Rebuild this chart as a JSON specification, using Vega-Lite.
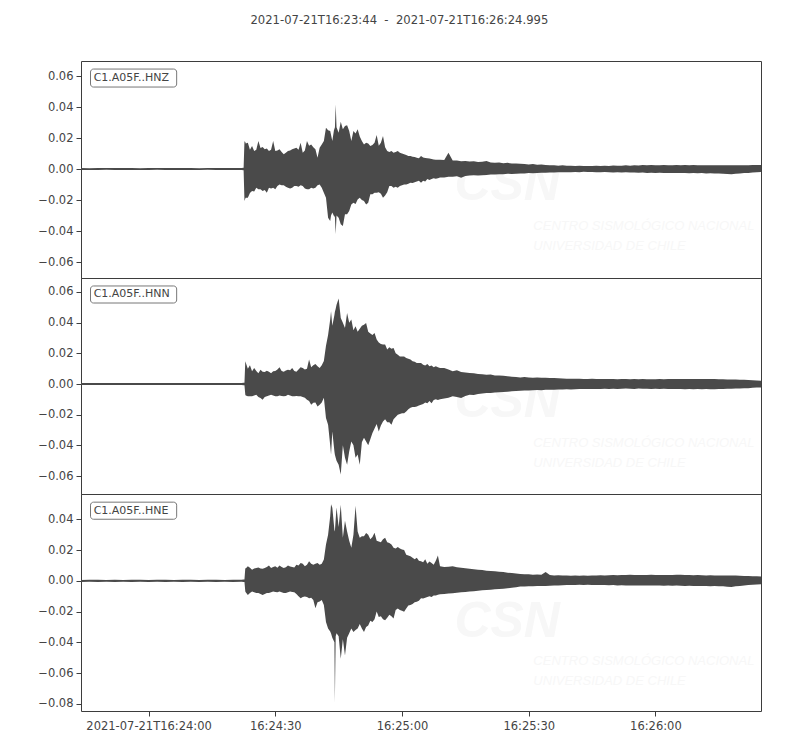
{
  "$schema": "https://vega.github.io/schema/vega-lite/v6.json",
  "title": {"text": "2021-07-21T16:23:44\u00a0\u00a0-\u00a0\u00a02021-07-21T16:26:24.995", "anchor": "middle", "fontSize": 11.6, "fontWeight": "normal", "color": "#444444", "font": "DejaVu Sans", "offset": 34},
  "background": "#ffffff",
  "padding": {"left": 37, "top": 14, "right": 40, "bottom": 5},
  "data": {"values": [
    {"t":0,"zl":-0.0006,"zh":0.0006,"nl":-0.0006,"nh":0.0007,"el":-0.0007,"eh":0.0006},
    {"t":2,"zl":-0.0007,"zh":0.0005,"nl":-0.0007,"nh":0.0006,"el":-0.0006,"eh":0.0007},
    {"t":4,"zl":-0.0006,"zh":0.0006,"nl":-0.0006,"nh":0.0006,"el":-0.0007,"eh":0.0007},
    {"t":6,"zl":-0.0005,"zh":0.0006,"nl":-0.0007,"nh":0.0007,"el":-0.0006,"eh":0.0006},
    {"t":8,"zl":-0.0006,"zh":0.0007,"nl":-0.0006,"nh":0.0006,"el":-0.0007,"eh":0.0007},
    {"t":10,"zl":-0.0006,"zh":0.0006,"nl":-0.0007,"nh":0.0006,"el":-0.0006,"eh":0.0006},
    {"t":12,"zl":-0.0007,"zh":0.0006,"nl":-0.0006,"nh":0.0007,"el":-0.0007,"eh":0.0007},
    {"t":14,"zl":-0.0006,"zh":0.0005,"nl":-0.0006,"nh":0.0006,"el":-0.0006,"eh":0.0007},
    {"t":16,"zl":-0.0006,"zh":0.0006,"nl":-0.0007,"nh":0.0006,"el":-0.0007,"eh":0.0006},
    {"t":18,"zl":-0.0005,"zh":0.0006,"nl":-0.0006,"nh":0.0007,"el":-0.0006,"eh":0.0007},
    {"t":20,"zl":-0.0006,"zh":0.0007,"nl":-0.0006,"nh":0.0006,"el":-0.0007,"eh":0.0007},
    {"t":22,"zl":-0.0006,"zh":0.0006,"nl":-0.0007,"nh":0.0006,"el":-0.0006,"eh":0.0006},
    {"t":24,"zl":-0.0007,"zh":0.0006,"nl":-0.0006,"nh":0.0007,"el":-0.0007,"eh":0.0007},
    {"t":26,"zl":-0.0006,"zh":0.0006,"nl":-0.0006,"nh":0.0006,"el":-0.0006,"eh":0.0007},
    {"t":28,"zl":-0.0006,"zh":0.0005,"nl":-0.0007,"nh":0.0006,"el":-0.0007,"eh":0.0006},
    {"t":30,"zl":-0.0005,"zh":0.0006,"nl":-0.0006,"nh":0.0007,"el":-0.0006,"eh":0.0007},
    {"t":32,"zl":-0.0006,"zh":0.0007,"nl":-0.0006,"nh":0.0006,"el":-0.0007,"eh":0.0007},
    {"t":34,"zl":-0.0006,"zh":0.0006,"nl":-0.0007,"nh":0.0006,"el":-0.0006,"eh":0.0006},
    {"t":36,"zl":-0.0007,"zh":0.0006,"nl":-0.0006,"nh":0.0007,"el":-0.0007,"eh":0.0007},
    {"t":38,"zl":-0.0006,"zh":0.0006,"nl":-0.0006,"nh":0.0006,"el":-0.0006,"eh":0.0007},
    {"t":38.5,"zl":-0.0008,"zh":0.0008,"nl":-0.0008,"nh":0.0008,"el":-0.0008,"eh":0.0008},
    {"t":38.7,"zl":-0.0206,"zh":0.018,"nl":-0.0008,"nh":0.0008,"el":-0.0008,"eh":0.0008},
    {"t":38.9,"zl":-0.019,"zh":0.0175,"nl":-0.007,"nh":0.0148,"el":-0.007,"eh":0.0083},
    {"t":39,"zl":-0.0185,"zh":0.0165,"nl":-0.0075,"nh":0.014,"el":-0.0075,"eh":0.008},
    {"t":39.5,"zl":-0.0185,"zh":0.017,"nl":-0.008,"nh":0.01,"el":-0.0092,"eh":0.0094},
    {"t":40,"zl":-0.0155,"zh":0.0125,"nl":-0.008,"nh":0.0122,"el":-0.008,"eh":0.0085},
    {"t":40.5,"zl":-0.0142,"zh":0.0148,"nl":-0.008,"nh":0.0083,"el":-0.007,"eh":0.0072},
    {"t":41,"zl":-0.0145,"zh":0.0116,"nl":-0.0075,"nh":0.0104,"el":-0.0075,"eh":0.008},
    {"t":41.5,"zl":-0.012,"zh":0.0125,"nl":-0.007,"nh":0.0085,"el":-0.008,"eh":0.0083},
    {"t":42,"zl":-0.013,"zh":0.0181,"nl":-0.0085,"nh":0.007,"el":-0.008,"eh":0.0087},
    {"t":42.5,"zl":-0.0131,"zh":0.0135,"nl":-0.0092,"nh":0.0093,"el":-0.0085,"eh":0.008},
    {"t":43,"zl":-0.0142,"zh":0.0142,"nl":-0.0102,"nh":0.008,"el":-0.0092,"eh":0.0078},
    {"t":43.5,"zl":-0.0135,"zh":0.0127,"nl":-0.0085,"nh":0.0078,"el":-0.0085,"eh":0.0083},
    {"t":44,"zl":-0.0153,"zh":0.0133,"nl":-0.008,"nh":0.0087,"el":-0.008,"eh":0.009},
    {"t":44.5,"zl":-0.012,"zh":0.0116,"nl":-0.0075,"nh":0.008,"el":-0.008,"eh":0.01},
    {"t":45,"zl":-0.0125,"zh":0.0125,"nl":-0.007,"nh":0.007,"el":-0.0075,"eh":0.0083},
    {"t":45.5,"zl":-0.012,"zh":0.0181,"nl":-0.0075,"nh":0.0083,"el":-0.007,"eh":0.009},
    {"t":46,"zl":-0.0131,"zh":0.0116,"nl":-0.008,"nh":0.0085,"el":-0.0072,"eh":0.0094},
    {"t":46.5,"zl":-0.011,"zh":0.012,"nl":-0.008,"nh":0.0095,"el":-0.0075,"eh":0.0085},
    {"t":47,"zl":-0.0099,"zh":0.0127,"nl":-0.0075,"nh":0.0109,"el":-0.007,"eh":0.01},
    {"t":47.5,"zl":-0.0105,"zh":0.011,"nl":-0.0078,"nh":0.0085,"el":-0.0075,"eh":0.009},
    {"t":48,"zl":-0.0105,"zh":0.0095,"nl":-0.008,"nh":0.008,"el":-0.008,"eh":0.0083},
    {"t":48.5,"zl":-0.0115,"zh":0.0105,"nl":-0.0078,"nh":0.0088,"el":-0.008,"eh":0.0088},
    {"t":49,"zl":-0.012,"zh":0.0116,"nl":-0.007,"nh":0.0093,"el":-0.0075,"eh":0.01},
    {"t":49.5,"zl":-0.0125,"zh":0.012,"nl":-0.0075,"nh":0.009,"el":-0.007,"eh":0.0093},
    {"t":50,"zl":-0.012,"zh":0.0127,"nl":-0.008,"nh":0.0104,"el":-0.0072,"eh":0.009},
    {"t":50.5,"zl":-0.011,"zh":0.0133,"nl":-0.008,"nh":0.0085,"el":-0.0075,"eh":0.0087},
    {"t":51,"zl":-0.011,"zh":0.0138,"nl":-0.0078,"nh":0.008,"el":-0.0085,"eh":0.0105},
    {"t":51.5,"zl":-0.0115,"zh":0.0125,"nl":-0.008,"nh":0.0095,"el":-0.01,"eh":0.01},
    {"t":52,"zl":-0.0105,"zh":0.017,"nl":-0.008,"nh":0.0109,"el":-0.0114,"eh":0.0116},
    {"t":52.5,"zl":-0.011,"zh":0.0105,"nl":-0.0085,"nh":0.0104,"el":-0.0105,"eh":0.011},
    {"t":53,"zl":-0.0125,"zh":0.012,"nl":-0.009,"nh":0.0095,"el":-0.0102,"eh":0.0094},
    {"t":53.5,"zl":-0.0131,"zh":0.0181,"nl":-0.0102,"nh":0.01,"el":-0.0105,"eh":0.0105},
    {"t":54,"zl":-0.0131,"zh":0.015,"nl":-0.011,"nh":0.0159,"el":-0.0114,"eh":0.0127},
    {"t":54.5,"zl":-0.012,"zh":0.0159,"nl":-0.0135,"nh":0.011,"el":-0.011,"eh":0.011},
    {"t":55,"zl":-0.0125,"zh":0.014,"nl":-0.0122,"nh":0.0122,"el":-0.0125,"eh":0.0105},
    {"t":55.5,"zl":-0.012,"zh":0.0127,"nl":-0.012,"nh":0.013,"el":-0.0179,"eh":0.011},
    {"t":56,"zl":-0.0105,"zh":0.0073,"nl":-0.0146,"nh":0.0115,"el":-0.014,"eh":0.0116},
    {"t":56.5,"zl":-0.0099,"zh":0.0138,"nl":-0.0135,"nh":0.0104,"el":-0.0135,"eh":0.0105},
    {"t":57,"zl":-0.012,"zh":0.0159,"nl":-0.012,"nh":0.0122,"el":-0.0125,"eh":0.011},
    {"t":57.5,"zl":-0.0153,"zh":0.0181,"nl":-0.009,"nh":0.015,"el":-0.0157,"eh":0.0138},
    {"t":58,"zl":-0.0185,"zh":0.0267,"nl":-0.0222,"nh":0.025,"el":-0.0267,"eh":0.0236},
    {"t":58.5,"zl":-0.0314,"zh":0.025,"nl":-0.0265,"nh":0.032,"el":-0.031,"eh":0.03},
    {"t":59,"zl":-0.0335,"zh":0.0245,"nl":-0.04,"nh":0.042,"el":-0.033,"eh":0.042},
    {"t":59.2,"zl":-0.03,"zh":0.022,"nl":-0.046,"nh":0.0474,"el":-0.0343,"eh":0.0498},
    {"t":59.5,"zl":-0.028,"zh":0.0181,"nl":-0.031,"nh":0.038,"el":-0.037,"eh":0.0475},
    {"t":60,"zl":-0.031,"zh":0.027,"nl":-0.044,"nh":0.045,"el":-0.04,"eh":0.033},
    {"t":60.1,"zl":-0.03,"zh":0.025,"nl":-0.046,"nh":0.047,"el":-0.079,"eh":0.032},
    {"t":60.3,"zl":-0.0421,"zh":0.0417,"nl":-0.048,"nh":0.049,"el":-0.036,"eh":0.04},
    {"t":60.5,"zl":-0.03,"zh":0.027,"nl":-0.05,"nh":0.0517,"el":-0.034,"eh":0.0477},
    {"t":61,"zl":-0.0314,"zh":0.0234,"nl":-0.0526,"nh":0.0557,"el":-0.036,"eh":0.035},
    {"t":61.5,"zl":-0.0357,"zh":0.0305,"nl":-0.059,"nh":0.043,"el":-0.0507,"eh":0.0494},
    {"t":62,"zl":-0.0368,"zh":0.0256,"nl":-0.04,"nh":0.04,"el":-0.038,"eh":0.028},
    {"t":62.5,"zl":-0.0292,"zh":0.0277,"nl":-0.048,"nh":0.0365,"el":-0.0485,"eh":0.039},
    {"t":63,"zl":-0.0292,"zh":0.0282,"nl":-0.0526,"nh":0.0463,"el":-0.037,"eh":0.032},
    {"t":63.5,"zl":-0.027,"zh":0.0245,"nl":-0.044,"nh":0.04,"el":-0.034,"eh":0.026},
    {"t":64,"zl":-0.0228,"zh":0.0181,"nl":-0.0375,"nh":0.042,"el":-0.031,"eh":0.0214},
    {"t":64.5,"zl":-0.0217,"zh":0.0245,"nl":-0.04,"nh":0.035,"el":-0.0332,"eh":0.03},
    {"t":65,"zl":-0.0225,"zh":0.023,"nl":-0.048,"nh":0.0376,"el":-0.032,"eh":0.0487},
    {"t":65.5,"zl":-0.0196,"zh":0.0256,"nl":-0.046,"nh":0.034,"el":-0.031,"eh":0.032},
    {"t":66,"zl":-0.0185,"zh":0.021,"nl":-0.0526,"nh":0.036,"el":-0.028,"eh":0.028},
    {"t":66.5,"zl":-0.02,"zh":0.0181,"nl":-0.038,"nh":0.038,"el":-0.031,"eh":0.029},
    {"t":67,"zl":-0.0206,"zh":0.0159,"nl":-0.035,"nh":0.0387,"el":-0.0332,"eh":0.029},
    {"t":67.5,"zl":-0.0228,"zh":0.017,"nl":-0.0374,"nh":0.0398,"el":-0.03,"eh":0.031},
    {"t":68,"zl":-0.0217,"zh":0.0165,"nl":-0.04,"nh":0.034,"el":-0.029,"eh":0.03},
    {"t":68.5,"zl":-0.0163,"zh":0.0148,"nl":-0.036,"nh":0.033,"el":-0.026,"eh":0.027},
    {"t":69,"zl":-0.0163,"zh":0.0155,"nl":-0.032,"nh":0.032,"el":-0.0267,"eh":0.0285},
    {"t":69.5,"zl":-0.0153,"zh":0.017,"nl":-0.029,"nh":0.0333,"el":-0.025,"eh":0.0313},
    {"t":70,"zl":-0.0153,"zh":0.0219,"nl":-0.026,"nh":0.029,"el":-0.02,"eh":0.026},
    {"t":70.5,"zl":-0.015,"zh":0.015,"nl":-0.031,"nh":0.027,"el":-0.0235,"eh":0.0255},
    {"t":71,"zl":-0.016,"zh":0.017,"nl":-0.027,"nh":0.026,"el":-0.023,"eh":0.025},
    {"t":71.5,"zl":-0.0185,"zh":0.0213,"nl":-0.0245,"nh":0.0257,"el":-0.025,"eh":0.027},
    {"t":72,"zl":-0.017,"zh":0.014,"nl":-0.023,"nh":0.0257,"el":-0.0256,"eh":0.028},
    {"t":72.5,"zl":-0.015,"zh":0.0116,"nl":-0.025,"nh":0.0225,"el":-0.024,"eh":0.025},
    {"t":73,"zl":-0.011,"zh":0.011,"nl":-0.025,"nh":0.024,"el":-0.022,"eh":0.0245},
    {"t":73.5,"zl":-0.011,"zh":0.0116,"nl":-0.0265,"nh":0.023,"el":-0.023,"eh":0.0236},
    {"t":74,"zl":-0.012,"zh":0.0105,"nl":-0.023,"nh":0.0235,"el":-0.0245,"eh":0.0215},
    {"t":74.5,"zl":-0.0115,"zh":0.011,"nl":-0.0215,"nh":0.02,"el":-0.019,"eh":0.021},
    {"t":75,"zl":-0.012,"zh":0.0116,"nl":-0.02,"nh":0.0191,"el":-0.018,"eh":0.022},
    {"t":75.5,"zl":-0.011,"zh":0.0105,"nl":-0.0195,"nh":0.018,"el":-0.019,"eh":0.021},
    {"t":76,"zl":-0.0105,"zh":0.01,"nl":-0.019,"nh":0.018,"el":-0.0195,"eh":0.0203},
    {"t":76.5,"zl":-0.0099,"zh":0.0095,"nl":-0.019,"nh":0.018,"el":-0.0201,"eh":0.02},
    {"t":77,"zl":-0.0099,"zh":0.009,"nl":-0.018,"nh":0.017,"el":-0.018,"eh":0.017},
    {"t":77.5,"zl":-0.0095,"zh":0.0084,"nl":-0.0165,"nh":0.0165,"el":-0.016,"eh":0.0165},
    {"t":78,"zl":-0.0088,"zh":0.0084,"nl":-0.0155,"nh":0.016,"el":-0.0158,"eh":0.016},
    {"t":78.5,"zl":-0.009,"zh":0.008,"nl":-0.015,"nh":0.0148,"el":-0.015,"eh":0.015},
    {"t":79,"zl":-0.0085,"zh":0.0078,"nl":-0.015,"nh":0.0145,"el":-0.014,"eh":0.014},
    {"t":79.5,"zl":-0.008,"zh":0.0073,"nl":-0.0146,"nh":0.0137,"el":-0.0136,"eh":0.0149},
    {"t":80,"zl":-0.0075,"zh":0.007,"nl":-0.014,"nh":0.0137,"el":-0.013,"eh":0.013},
    {"t":80.5,"zl":-0.0088,"zh":0.0084,"nl":-0.0135,"nh":0.0137,"el":-0.0114,"eh":0.0127},
    {"t":81,"zl":-0.0075,"zh":0.0075,"nl":-0.013,"nh":0.0125,"el":-0.0115,"eh":0.012},
    {"t":81.5,"zl":-0.008,"zh":0.0072,"nl":-0.012,"nh":0.012,"el":-0.011,"eh":0.014},
    {"t":82,"zl":-0.0065,"zh":0.007,"nl":-0.0125,"nh":0.013,"el":-0.0105,"eh":0.011},
    {"t":82.5,"zl":-0.007,"zh":0.0068,"nl":-0.011,"nh":0.0115,"el":-0.01,"eh":0.0125},
    {"t":83,"zl":-0.0065,"zh":0.0065,"nl":-0.0125,"nh":0.012,"el":-0.0105,"eh":0.0115},
    {"t":83.5,"zl":-0.006,"zh":0.0062,"nl":-0.0105,"nh":0.011,"el":-0.0095,"eh":0.0105},
    {"t":84,"zl":-0.0062,"zh":0.006,"nl":-0.01,"nh":0.0115,"el":-0.0095,"eh":0.013},
    {"t":84.5,"zl":-0.006,"zh":0.006,"nl":-0.0105,"nh":0.011,"el":-0.009,"eh":0.0164},
    {"t":85,"zl":-0.0055,"zh":0.006,"nl":-0.01,"nh":0.0105,"el":-0.0088,"eh":0.0094},
    {"t":86,"zl":-0.0055,"zh":0.0058,"nl":-0.0095,"nh":0.0104,"el":-0.0085,"eh":0.009},
    {"t":87,"zl":-0.005,"zh":0.0105,"nl":-0.009,"nh":0.0095,"el":-0.0082,"eh":0.0092},
    {"t":88,"zl":-0.005,"zh":0.0055,"nl":-0.008,"nh":0.0083,"el":-0.0081,"eh":0.0094},
    {"t":89,"zl":-0.0047,"zh":0.0055,"nl":-0.0085,"nh":0.009,"el":-0.0078,"eh":0.0088},
    {"t":90,"zl":-0.0056,"zh":0.005,"nl":-0.0092,"nh":0.0078,"el":-0.0075,"eh":0.0085},
    {"t":91,"zl":-0.0045,"zh":0.0052,"nl":-0.0078,"nh":0.0075,"el":-0.0072,"eh":0.0082},
    {"t":92,"zl":-0.0042,"zh":0.0048,"nl":-0.007,"nh":0.0072,"el":-0.007,"eh":0.0079},
    {"t":93,"zl":-0.004,"zh":0.005,"nl":-0.0072,"nh":0.007,"el":-0.0068,"eh":0.0075},
    {"t":94,"zl":-0.0042,"zh":0.0045,"nl":-0.0065,"nh":0.0066,"el":-0.0065,"eh":0.0072},
    {"t":95,"zl":-0.004,"zh":0.0047,"nl":-0.0062,"nh":0.0064,"el":-0.0062,"eh":0.007},
    {"t":96,"zl":-0.0039,"zh":0.0052,"nl":-0.0059,"nh":0.006,"el":-0.0059,"eh":0.0066},
    {"t":97,"zl":-0.0036,"zh":0.0042,"nl":-0.0058,"nh":0.0062,"el":-0.0058,"eh":0.0064},
    {"t":98,"zl":-0.0035,"zh":0.004,"nl":-0.0055,"nh":0.0056,"el":-0.0055,"eh":0.0062},
    {"t":99,"zl":-0.0034,"zh":0.0042,"nl":-0.0053,"nh":0.0055,"el":-0.0053,"eh":0.0059},
    {"t":100,"zl":-0.0033,"zh":0.0038,"nl":-0.0052,"nh":0.0054,"el":-0.0052,"eh":0.0057},
    {"t":101,"zl":-0.003,"zh":0.004,"nl":-0.005,"nh":0.005,"el":-0.0048,"eh":0.0052},
    {"t":102,"zl":-0.0032,"zh":0.0036,"nl":-0.0048,"nh":0.0048,"el":-0.0045,"eh":0.005},
    {"t":103,"zl":-0.003,"zh":0.0035,"nl":-0.0046,"nh":0.0046,"el":-0.0042,"eh":0.0047},
    {"t":104,"zl":-0.0028,"zh":0.0034,"nl":-0.0044,"nh":0.0043,"el":-0.0037,"eh":0.0044},
    {"t":105,"zl":-0.0028,"zh":0.0032,"nl":-0.0042,"nh":0.0045,"el":-0.0037,"eh":0.0043},
    {"t":106,"zl":-0.0026,"zh":0.003,"nl":-0.0042,"nh":0.0042,"el":-0.0036,"eh":0.0042},
    {"t":107,"zl":-0.0027,"zh":0.0032,"nl":-0.004,"nh":0.0041,"el":-0.0035,"eh":0.004},
    {"t":108,"zl":-0.0025,"zh":0.0028,"nl":-0.0039,"nh":0.0043,"el":-0.0034,"eh":0.0041},
    {"t":109,"zl":-0.0024,"zh":0.003,"nl":-0.004,"nh":0.004,"el":-0.0033,"eh":0.0039},
    {"t":110,"zl":-0.0024,"zh":0.0026,"nl":-0.0038,"nh":0.0041,"el":-0.0033,"eh":0.0057},
    {"t":111,"zl":-0.0022,"zh":0.0025,"nl":-0.0037,"nh":0.0039,"el":-0.0032,"eh":0.0038},
    {"t":112,"zl":-0.0023,"zh":0.0024,"nl":-0.0037,"nh":0.0039,"el":-0.0031,"eh":0.0035},
    {"t":113,"zl":-0.0021,"zh":0.0022,"nl":-0.0036,"nh":0.0037,"el":-0.003,"eh":0.0036},
    {"t":114,"zl":-0.002,"zh":0.0024,"nl":-0.0035,"nh":0.0036,"el":-0.0029,"eh":0.0034},
    {"t":115,"zl":-0.002,"zh":0.0021,"nl":-0.0034,"nh":0.0035,"el":-0.0028,"eh":0.0035},
    {"t":116,"zl":-0.0021,"zh":0.0022,"nl":-0.0035,"nh":0.0034,"el":-0.0027,"eh":0.0033},
    {"t":117,"zl":-0.0019,"zh":0.002,"nl":-0.0034,"nh":0.0035,"el":-0.0028,"eh":0.0034},
    {"t":118,"zl":-0.002,"zh":0.0021,"nl":-0.0033,"nh":0.0034,"el":-0.0026,"eh":0.0033},
    {"t":119,"zl":-0.0018,"zh":0.0019,"nl":-0.0033,"nh":0.0033,"el":-0.0027,"eh":0.0034},
    {"t":120,"zl":-0.0019,"zh":0.0019,"nl":-0.0033,"nh":0.0033,"el":-0.0026,"eh":0.0033},
    {"t":121,"zl":-0.0019,"zh":0.002,"nl":-0.0032,"nh":0.0034,"el":-0.0027,"eh":0.0034},
    {"t":122,"zl":-0.002,"zh":0.0021,"nl":-0.0033,"nh":0.0032,"el":-0.0028,"eh":0.0035},
    {"t":123,"zl":-0.0021,"zh":0.0019,"nl":-0.0032,"nh":0.0033,"el":-0.0027,"eh":0.0036},
    {"t":124,"zl":-0.0019,"zh":0.0022,"nl":-0.0031,"nh":0.0033,"el":-0.0028,"eh":0.0035},
    {"t":125,"zl":-0.002,"zh":0.002,"nl":-0.0032,"nh":0.0032,"el":-0.0029,"eh":0.0036},
    {"t":126,"zl":-0.0022,"zh":0.0023,"nl":-0.0031,"nh":0.0033,"el":-0.0028,"eh":0.0037},
    {"t":127,"zl":-0.0021,"zh":0.0021,"nl":-0.0032,"nh":0.0031,"el":-0.003,"eh":0.0036},
    {"t":128,"zl":-0.0022,"zh":0.0022,"nl":-0.0031,"nh":0.0032,"el":-0.0029,"eh":0.0038},
    {"t":129,"zl":-0.002,"zh":0.0024,"nl":-0.003,"nh":0.0033,"el":-0.003,"eh":0.0037},
    {"t":130,"zl":-0.0023,"zh":0.0022,"nl":-0.0031,"nh":0.0031,"el":-0.0031,"eh":0.0039},
    {"t":131,"zl":-0.0022,"zh":0.0025,"nl":-0.0032,"nh":0.0032,"el":-0.003,"eh":0.0037},
    {"t":132,"zl":-0.0024,"zh":0.0023,"nl":-0.003,"nh":0.0031,"el":-0.0031,"eh":0.0038},
    {"t":133,"zl":-0.0022,"zh":0.0026,"nl":-0.0031,"nh":0.0032,"el":-0.003,"eh":0.0037},
    {"t":134,"zl":-0.0025,"zh":0.0024,"nl":-0.0031,"nh":0.0031,"el":-0.0031,"eh":0.0038},
    {"t":135,"zl":-0.0024,"zh":0.0026,"nl":-0.0032,"nh":0.0031,"el":-0.0031,"eh":0.0039},
    {"t":136,"zl":-0.0026,"zh":0.0025,"nl":-0.0031,"nh":0.0031,"el":-0.003,"eh":0.0038},
    {"t":137,"zl":-0.0024,"zh":0.0024,"nl":-0.0032,"nh":0.0032,"el":-0.0031,"eh":0.0037},
    {"t":138,"zl":-0.0025,"zh":0.0026,"nl":-0.0031,"nh":0.0031,"el":-0.0032,"eh":0.0038},
    {"t":139,"zl":-0.0026,"zh":0.0024,"nl":-0.0033,"nh":0.0032,"el":-0.0031,"eh":0.0037},
    {"t":140,"zl":-0.0025,"zh":0.0025,"nl":-0.0032,"nh":0.0033,"el":-0.0032,"eh":0.0038},
    {"t":141,"zl":-0.0026,"zh":0.0026,"nl":-0.0033,"nh":0.0032,"el":-0.0031,"eh":0.0039},
    {"t":142,"zl":-0.0025,"zh":0.0025,"nl":-0.0032,"nh":0.0033,"el":-0.0032,"eh":0.004},
    {"t":143,"zl":-0.0026,"zh":0.0026,"nl":-0.0034,"nh":0.0032,"el":-0.0033,"eh":0.0038},
    {"t":144,"zl":-0.0027,"zh":0.0025,"nl":-0.0033,"nh":0.0033,"el":-0.0032,"eh":0.0037},
    {"t":145,"zl":-0.0026,"zh":0.0026,"nl":-0.0034,"nh":0.0032,"el":-0.0033,"eh":0.0036},
    {"t":146,"zl":-0.0027,"zh":0.0025,"nl":-0.0033,"nh":0.0032,"el":-0.0034,"eh":0.0037},
    {"t":147,"zl":-0.0026,"zh":0.0024,"nl":-0.0034,"nh":0.0033,"el":-0.0033,"eh":0.0036},
    {"t":148,"zl":-0.0028,"zh":0.0025,"nl":-0.0033,"nh":0.0032,"el":-0.0034,"eh":0.0035},
    {"t":149,"zl":-0.0027,"zh":0.0024,"nl":-0.0034,"nh":0.0033,"el":-0.0035,"eh":0.0036},
    {"t":150,"zl":-0.0028,"zh":0.0025,"nl":-0.0034,"nh":0.0032,"el":-0.0034,"eh":0.0035},
    {"t":151,"zl":-0.0029,"zh":0.0024,"nl":-0.0033,"nh":0.0031,"el":-0.0035,"eh":0.0034},
    {"t":152,"zl":-0.003,"zh":0.0025,"nl":-0.0032,"nh":0.0031,"el":-0.0036,"eh":0.0035},
    {"t":153,"zl":-0.0032,"zh":0.0024,"nl":-0.0031,"nh":0.003,"el":-0.0038,"eh":0.0034},
    {"t":154,"zl":-0.0034,"zh":0.0024,"nl":-0.0031,"nh":0.003,"el":-0.0041,"eh":0.0035},
    {"t":155,"zl":-0.003,"zh":0.0025,"nl":-0.003,"nh":0.0029,"el":-0.0036,"eh":0.0034},
    {"t":156,"zl":-0.0028,"zh":0.0025,"nl":-0.0029,"nh":0.0028,"el":-0.0033,"eh":0.0033},
    {"t":157,"zl":-0.0026,"zh":0.0024,"nl":-0.0028,"nh":0.0027,"el":-0.003,"eh":0.0032},
    {"t":158,"zl":-0.0025,"zh":0.0025,"nl":-0.0027,"nh":0.0026,"el":-0.0028,"eh":0.0031},
    {"t":159,"zl":-0.0023,"zh":0.0026,"nl":-0.0025,"nh":0.0025,"el":-0.0026,"eh":0.003},
    {"t":160,"zl":-0.0021,"zh":0.0026,"nl":-0.0023,"nh":0.0023,"el":-0.0024,"eh":0.0029},
    {"t":160.995,"zl":-0.0019,"zh":0.0026,"nl":-0.0022,"nh":0.0022,"el":-0.0022,"eh":0.0028}
  ]},
  "spacing": 0,
  "bounds": "flush",
  "resolve": {"scale": {"x": "independent", "y": "independent"}},
  "vconcat": [
    {
      "width": 680,
      "height": 217,
      "resolve": {"axis": {"x": "independent", "y": "independent"}},
      "layer": [
        {"data": {"values": [{}]}, "mark": {"type": "text", "text": "CSN", "font": "Liberation Sans", "fontSize": 50, "fontStyle": "italic", "fontWeight": "bold", "color": "#f7f7f7", "align": "center", "baseline": "middle"},
         "encoding": {"x": {"datum": 100.9, "type": "quantitative", "axis": null}, "y": {"datum": -0.0103, "type": "quantitative", "axis": null}}},
        {"data": {"values": [{}]}, "mark": {"type": "text", "text": "CENTRO SISMOLÓGICO NACIONAL", "font": "Liberation Sans", "fontSize": 13, "fontStyle": "italic", "color": "#f7f7f7", "align": "left", "baseline": "middle"},
         "encoding": {"x": {"datum": 107.1, "type": "quantitative", "axis": null}, "y": {"datum": -0.0368, "type": "quantitative", "axis": null}}},
        {"data": {"values": [{}]}, "mark": {"type": "text", "text": "UNIVERSIDAD DE CHILE", "font": "Liberation Sans", "fontSize": 13, "fontStyle": "italic", "color": "#f7f7f7", "align": "left", "baseline": "middle"},
         "encoding": {"x": {"datum": 107.1, "type": "quantitative", "axis": null}, "y": {"datum": -0.0497, "type": "quantitative", "axis": null}}},
        {"mark": {"type": "area", "color": "#4a4a4a", "interpolate": "linear", "clip": true},
         "encoding": {
           "x": {"field": "t", "type": "quantitative", "scale": {"domain": [0, 160.995], "nice": false, "zero": false}, "axis": null},
           "y": {"field": "zl", "type": "quantitative", "scale": {"domain": [-0.0703, 0.0697], "nice": false, "zero": false},
                 "axis": {"title": null, "values": [-0.06, -0.04, -0.02, 0, 0.02, 0.04, 0.06], "format": ".2f", "minExtent": 40, "maxExtent": 40}},
           "y2": {"field": "zh"}
         }},
        {"data": {"values": [{}]}, "mark": {"type": "rect", "fill": "#ffffff", "stroke": "#777777", "strokeWidth": 1, "cornerRadius": 3},
         "encoding": {"x": {"datum": 2.25, "type": "quantitative", "axis": null}, "x2": {"datum": 22.65}, "y": {"datum": 0.0645, "type": "quantitative", "axis": null}, "y2": {"datum": 0.0529}}},
        {"data": {"values": [{}]}, "mark": {"type": "text", "text": "C1.A05F..HNZ", "font": "DejaVu Sans", "fontSize": 11, "color": "#444444", "align": "left", "baseline": "middle"},
         "encoding": {"x": {"datum": 3.0, "type": "quantitative", "axis": null}, "y": {"datum": 0.0587, "type": "quantitative", "axis": null}}}
      ]
    },
    {
      "width": 680,
      "height": 216,
      "resolve": {"axis": {"x": "independent", "y": "independent"}},
      "layer": [
        {"data": {"values": [{}]}, "mark": {"type": "text", "text": "CSN", "font": "Liberation Sans", "fontSize": 50, "fontStyle": "italic", "fontWeight": "bold", "color": "#f7f7f7", "align": "center", "baseline": "middle"},
         "encoding": {"x": {"datum": 100.9, "type": "quantitative", "axis": null}, "y": {"datum": -0.0117, "type": "quantitative", "axis": null}}},
        {"data": {"values": [{}]}, "mark": {"type": "text", "text": "CENTRO SISMOLÓGICO NACIONAL", "font": "Liberation Sans", "fontSize": 13, "fontStyle": "italic", "color": "#f7f7f7", "align": "left", "baseline": "middle"},
         "encoding": {"x": {"datum": 107.1, "type": "quantitative", "axis": null}, "y": {"datum": -0.0385, "type": "quantitative", "axis": null}}},
        {"data": {"values": [{}]}, "mark": {"type": "text", "text": "UNIVERSIDAD DE CHILE", "font": "Liberation Sans", "fontSize": 13, "fontStyle": "italic", "color": "#f7f7f7", "align": "left", "baseline": "middle"},
         "encoding": {"x": {"datum": 107.1, "type": "quantitative", "axis": null}, "y": {"datum": -0.0515, "type": "quantitative", "axis": null}}},
        {"mark": {"type": "area", "color": "#4a4a4a", "interpolate": "linear", "clip": true},
         "encoding": {
           "x": {"field": "t", "type": "quantitative", "scale": {"domain": [0, 160.995], "nice": false, "zero": false}, "axis": null},
           "y": {"field": "nl", "type": "quantitative", "scale": {"domain": [-0.0717, 0.0691], "nice": false, "zero": false},
                 "axis": {"title": null, "values": [-0.06, -0.04, -0.02, 0, 0.02, 0.04, 0.06], "format": ".2f", "minExtent": 40, "maxExtent": 40}},
           "y2": {"field": "nh"}
         }},
        {"data": {"values": [{}]}, "mark": {"type": "rect", "fill": "#ffffff", "stroke": "#777777", "strokeWidth": 1, "cornerRadius": 3},
         "encoding": {"x": {"datum": 2.25, "type": "quantitative", "axis": null}, "x2": {"datum": 22.65}, "y": {"datum": 0.0639, "type": "quantitative", "axis": null}, "y2": {"datum": 0.0528}}},
        {"data": {"values": [{}]}, "mark": {"type": "text", "text": "C1.A05F..HNN", "font": "DejaVu Sans", "fontSize": 11, "color": "#444444", "align": "left", "baseline": "middle"},
         "encoding": {"x": {"datum": 3.0, "type": "quantitative", "axis": null}, "y": {"datum": 0.0585, "type": "quantitative", "axis": null}}}
      ]
    },
    {
      "width": 680,
      "height": 217,
      "resolve": {"axis": {"x": "independent", "y": "independent"}},
      "layer": [
        {"data": {"values": [{}]}, "mark": {"type": "text", "text": "CSN", "font": "Liberation Sans", "fontSize": 50, "fontStyle": "italic", "fontWeight": "bold", "color": "#f7f7f7", "align": "center", "baseline": "middle"},
         "encoding": {"x": {"datum": 100.9, "type": "quantitative", "axis": null}, "y": {"datum": -0.0269, "type": "quantitative", "axis": null}}},
        {"data": {"values": [{}]}, "mark": {"type": "text", "text": "CENTRO SISMOLÓGICO NACIONAL", "font": "Liberation Sans", "fontSize": 13, "fontStyle": "italic", "color": "#f7f7f7", "align": "left", "baseline": "middle"},
         "encoding": {"x": {"datum": 107.1, "type": "quantitative", "axis": null}, "y": {"datum": -0.0518, "type": "quantitative", "axis": null}}},
        {"data": {"values": [{}]}, "mark": {"type": "text", "text": "UNIVERSIDAD DE CHILE", "font": "Liberation Sans", "fontSize": 13, "fontStyle": "italic", "color": "#f7f7f7", "align": "left", "baseline": "middle"},
         "encoding": {"x": {"datum": 107.1, "type": "quantitative", "axis": null}, "y": {"datum": -0.0649, "type": "quantitative", "axis": null}}},
        {"mark": {"type": "area", "color": "#4a4a4a", "interpolate": "linear", "clip": true},
         "encoding": {
           "x": {"field": "t", "type": "quantitative", "scale": {"domain": [0, 160.995], "nice": false, "zero": false},
                 "axis": {"title": null, "values": [16, 46, 76, 106, 136], "labelExpr": "datum.value == 16 ? '2021-07-21T16:24:00' : datum.value == 46 ? '16:24:30' : datum.value == 76 ? '16:25:00' : datum.value == 106 ? '16:25:30' : '16:26:00'", "labelPadding": 4}},
           "y": {"field": "el", "type": "quantitative", "scale": {"domain": [-0.0846, 0.0564], "nice": false, "zero": false},
                 "axis": {"title": null, "values": [-0.08, -0.06, -0.04, -0.02, 0, 0.02, 0.04], "format": ".2f", "minExtent": 40, "maxExtent": 40}},
           "y2": {"field": "eh"}
         }},
        {"data": {"values": [{}]}, "mark": {"type": "rect", "fill": "#ffffff", "stroke": "#777777", "strokeWidth": 1, "cornerRadius": 3},
         "encoding": {"x": {"datum": 2.25, "type": "quantitative", "axis": null}, "x2": {"datum": 22.65}, "y": {"datum": 0.0511, "type": "quantitative", "axis": null}, "y2": {"datum": 0.04}}},
        {"data": {"values": [{}]}, "mark": {"type": "text", "text": "C1.A05F..HNE", "font": "DejaVu Sans", "fontSize": 11, "color": "#444444", "align": "left", "baseline": "middle"},
         "encoding": {"x": {"datum": 3.0, "type": "quantitative", "axis": null}, "y": {"datum": 0.0456, "type": "quantitative", "axis": null}}}
      ]
    }
  ],
  "config": {
    "view": {"stroke": "#3d3d3d", "strokeWidth": 1},
    "concat": {"spacing": 0},
    "axis": {"labelFont": "DejaVu Sans", "labelFontSize": 11.5, "labelColor": "#444444", "tickColor": "#3d3d3d", "tickSize": 5, "domain": false, "grid": false, "labelPadding": 3}
  }
}
